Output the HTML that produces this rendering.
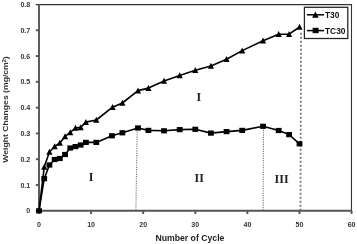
<!DOCTYPE html><html><head><meta charset="utf-8"><style>html,body{margin:0;padding:0;background:#fff;width:357px;height:244px;overflow:hidden}svg{display:block;will-change:transform}</style></head><body>
<svg width="357" height="244" viewBox="0 0 357 244">
<rect width="357" height="244" fill="#fff"/>
<g fill="none">
<line x1="137.2" y1="131.8" x2="135.9" y2="210" stroke="#777" stroke-width="1.1" stroke-dasharray="1.2,1.13"/>
<line x1="263.45" y1="129.8" x2="263.15" y2="210" stroke="#777" stroke-width="1.1" stroke-dasharray="1.2,1.13"/>
<line x1="301" y1="32.8" x2="300.45" y2="210" stroke="#777" stroke-width="1.8" stroke-dasharray="2,2"/>
</g>
<path d="M35.8,4.6H351.5V210.8" stroke="#333" stroke-width="1.1" fill="none"/>
<g stroke="#555" stroke-width="1.9" fill="none">
<path d="M39,4.2V210.8H351.5"/>
<line x1="35.8" y1="210.80" x2="39" y2="210.80"/>
<line x1="35.8" y1="185.01" x2="39" y2="185.01"/>
<line x1="35.8" y1="159.22" x2="39" y2="159.22"/>
<line x1="35.8" y1="133.43" x2="39" y2="133.43"/>
<line x1="35.8" y1="107.64" x2="39" y2="107.64"/>
<line x1="35.8" y1="81.85" x2="39" y2="81.85"/>
<line x1="35.8" y1="56.06" x2="39" y2="56.06"/>
<line x1="35.8" y1="30.27" x2="39" y2="30.27"/>
<line x1="39.00" y1="210.8" x2="39.00" y2="214"/>
<line x1="91.10" y1="210.8" x2="91.10" y2="214"/>
<line x1="143.20" y1="210.8" x2="143.20" y2="214"/>
<line x1="195.30" y1="210.8" x2="195.30" y2="214"/>
<line x1="247.40" y1="210.8" x2="247.40" y2="214"/>
<line x1="299.50" y1="210.8" x2="299.50" y2="214"/>
<line x1="351.60" y1="210.8" x2="351.60" y2="214"/>
</g>
<polyline points="39.00,210.80 44.21,167.00 49.42,152.00 54.63,146.50 59.84,143.00 65.05,136.40 70.26,132.40 75.47,128.00 80.68,127.40 85.89,122.10 96.31,120.00 112.57,107.20 122.36,103.00 137.99,90.60 148.41,88.10 164.04,81.00 179.67,75.40 195.30,70.20 210.93,66.00 226.56,59.20 242.19,50.60 263.03,40.80 278.66,34.20 289.08,34.20 299.50,27.00" fill="none" stroke="#000" stroke-width="1.6" stroke-linejoin="round"/>
<polyline points="39.00,210.80 44.21,178.70 49.42,165.00 54.63,159.50 59.84,158.50 65.05,154.50 70.26,148.00 75.47,146.60 80.68,145.00 85.89,142.40 96.31,142.40 111.94,135.80 122.36,132.80 137.99,128.00 148.41,130.40 164.04,130.80 179.67,129.60 195.30,129.30 210.93,133.10 226.56,131.60 242.19,130.40 263.03,126.30 278.66,130.50 289.08,134.60 299.50,143.80" fill="none" stroke="#000" stroke-width="1.6" stroke-linejoin="round"/>
<g fill="#000">
<path d="M41.11,169.80L44.21,163.80L47.31,169.80Z"/>
<path d="M46.32,154.80L49.42,148.80L52.52,154.80Z"/>
<path d="M51.53,149.30L54.63,143.30L57.73,149.30Z"/>
<path d="M56.74,145.80L59.84,139.80L62.94,145.80Z"/>
<path d="M61.95,139.20L65.05,133.20L68.15,139.20Z"/>
<path d="M67.16,135.20L70.26,129.20L73.36,135.20Z"/>
<path d="M72.37,130.80L75.47,124.80L78.57,130.80Z"/>
<path d="M77.58,130.20L80.68,124.20L83.78,130.20Z"/>
<path d="M82.79,124.90L85.89,118.90L88.99,124.90Z"/>
<path d="M93.21,122.80L96.31,116.80L99.41,122.80Z"/>
<path d="M109.47,110.00L112.57,104.00L115.67,110.00Z"/>
<path d="M119.26,105.80L122.36,99.80L125.46,105.80Z"/>
<path d="M134.89,93.40L137.99,87.40L141.09,93.40Z"/>
<path d="M145.31,90.90L148.41,84.90L151.51,90.90Z"/>
<path d="M160.94,83.80L164.04,77.80L167.14,83.80Z"/>
<path d="M176.57,78.20L179.67,72.20L182.77,78.20Z"/>
<path d="M192.20,73.00L195.30,67.00L198.40,73.00Z"/>
<path d="M207.83,68.80L210.93,62.80L214.03,68.80Z"/>
<path d="M223.46,62.00L226.56,56.00L229.66,62.00Z"/>
<path d="M239.09,53.40L242.19,47.40L245.29,53.40Z"/>
<path d="M259.93,43.60L263.03,37.60L266.13,43.60Z"/>
<path d="M275.56,37.00L278.66,31.00L281.76,37.00Z"/>
<path d="M285.98,37.00L289.08,31.00L292.18,37.00Z"/>
<path d="M296.40,29.80L299.50,23.80L302.60,29.80Z"/>
<rect x="36.10" y="208.20" width="5.8" height="5.2"/>
<rect x="41.31" y="176.10" width="5.8" height="5.2"/>
<rect x="46.52" y="162.40" width="5.8" height="5.2"/>
<rect x="51.73" y="156.90" width="5.8" height="5.2"/>
<rect x="56.94" y="155.90" width="5.8" height="5.2"/>
<rect x="62.15" y="151.90" width="5.8" height="5.2"/>
<rect x="67.36" y="145.40" width="5.8" height="5.2"/>
<rect x="72.57" y="144.00" width="5.8" height="5.2"/>
<rect x="77.78" y="142.40" width="5.8" height="5.2"/>
<rect x="82.99" y="139.80" width="5.8" height="5.2"/>
<rect x="93.41" y="139.80" width="5.8" height="5.2"/>
<rect x="109.04" y="133.20" width="5.8" height="5.2"/>
<rect x="119.46" y="130.20" width="5.8" height="5.2"/>
<rect x="135.09" y="125.40" width="5.8" height="5.2"/>
<rect x="145.51" y="127.80" width="5.8" height="5.2"/>
<rect x="161.14" y="128.20" width="5.8" height="5.2"/>
<rect x="176.77" y="127.00" width="5.8" height="5.2"/>
<rect x="192.40" y="126.70" width="5.8" height="5.2"/>
<rect x="208.03" y="130.50" width="5.8" height="5.2"/>
<rect x="223.66" y="129.00" width="5.8" height="5.2"/>
<rect x="239.29" y="127.80" width="5.8" height="5.2"/>
<rect x="260.13" y="123.70" width="5.8" height="5.2"/>
<rect x="275.76" y="127.90" width="5.8" height="5.2"/>
<rect x="286.18" y="132.00" width="5.8" height="5.2"/>
<rect x="296.60" y="141.20" width="5.8" height="5.2"/>
</g>
<g font-family="Liberation Sans, sans-serif" font-weight="bold" font-size="7.9" fill="#333" text-anchor="end">
<text transform="translate(30.3,213.40) scale(0.9,1)">0</text>
<text transform="translate(30.3,187.61) scale(0.9,1)">0.1</text>
<text transform="translate(30.3,161.82) scale(0.9,1)">0.2</text>
<text transform="translate(30.3,136.03) scale(0.9,1)">0.3</text>
<text transform="translate(30.3,110.24) scale(0.9,1)">0.4</text>
<text transform="translate(30.3,84.45) scale(0.9,1)">0.5</text>
<text transform="translate(30.3,58.66) scale(0.9,1)">0.6</text>
<text transform="translate(30.3,32.87) scale(0.9,1)">0.7</text>
<text transform="translate(30.3,7.08) scale(0.9,1)">0.8</text>
</g>
<g font-family="Liberation Sans, sans-serif" font-weight="bold" font-size="7.9" fill="#333" text-anchor="middle">
<text transform="translate(39.00,227.2) scale(0.9,1)">0</text>
<text transform="translate(91.10,227.2) scale(0.9,1)">10</text>
<text transform="translate(143.20,227.2) scale(0.9,1)">20</text>
<text transform="translate(195.30,227.2) scale(0.9,1)">30</text>
<text transform="translate(247.40,227.2) scale(0.9,1)">40</text>
<text transform="translate(299.50,227.2) scale(0.9,1)">50</text>
<text transform="translate(351.60,227.2) scale(0.9,1)">60</text>
</g>
<text x="189.9" y="241" font-family="Liberation Sans, sans-serif" font-weight="bold" font-size="8.7" fill="#222" text-anchor="middle">Number of Cycle</text>
<text transform="translate(8.4,109.5) rotate(-90) scale(1,0.88)" font-family="Liberation Sans, sans-serif" font-weight="bold" font-size="8.65" fill="#333" text-anchor="middle">Weight Changes (mg/cm<tspan font-size="5.5" dy="-3">2</tspan><tspan dy="3">)</tspan></text>
<g font-family="Liberation Serif, serif" font-weight="bold" font-size="12" fill="#222" text-anchor="middle">
<text x="91.1" y="181.4">I</text>
<text x="199.2" y="181.7">II</text>
<text x="281.6" y="182.6">III</text>
<text x="198.9" y="101.4">I</text>
</g>
<rect x="304.4" y="7.3" width="43.4" height="31.2" fill="#fff" stroke="#222" stroke-width="1.25"/>
<line x1="306.9" y1="14.8" x2="324" y2="14.8" stroke="#000" stroke-width="1.5"/>
<line x1="306.9" y1="30.6" x2="324" y2="30.6" stroke="#000" stroke-width="1.5"/>
<g fill="#000"><path d="M312.10,17.70L315.40,11.50L318.70,17.70Z"/><rect x="312.60" y="27.80" width="6" height="5.4"/></g>
<g font-family="Liberation Sans, sans-serif" font-weight="bold" font-size="8.4" fill="#111">
<text x="325" y="18">T30</text>
<text x="325" y="33.6">TC30</text>
</g>
</svg></body></html>
